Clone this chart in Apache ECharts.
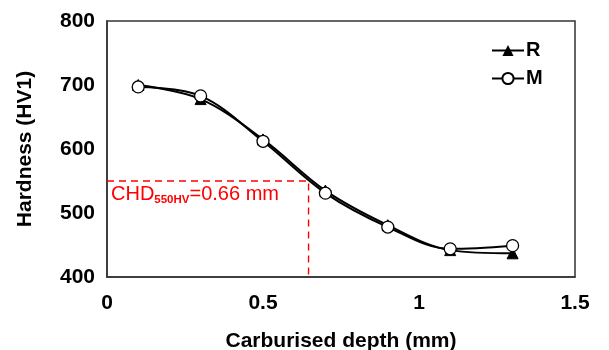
<!DOCTYPE html>
<html><head><meta charset="utf-8">
<script src="https://cdn.jsdelivr.net/npm/echarts@6/dist/echarts.min.js"></script>
<style>html,body{margin:0;padding:0;background:#fff}#c{width:609px;height:350px}</style>
</head><body><div id="c"></div>
<script>
const depth = [0.1, 0.3, 0.5, 0.7, 0.9, 1.1, 1.3];
const seriesR = [700, 678, 615, 535, 481, 442, 437];
const seriesM = [697, 683, 612, 531, 478, 444, 449];
const chdLineDepth = 0.646;
const chdHardness = 550;
const chdLabel = 'CHD{b|550HV}=0.66 mm';
const xTicks = [0, 0.5, 1, 1.5];
const yTicks = [400, 500, 600, 700, 800];

const font = 'Liberation Sans, Arial, sans-serif';
const chart = echarts.init(document.getElementById('c'));
chart.setOption({
  animation: false,
  grid: {left: 107, right: 34, top: 21, bottom: 73, show: true, borderColor: '#333', borderWidth: 1.5,
    containLabel: false, outerBoundsMode: 'none'},
  legend: {
    orient: 'vertical', left: 486, top: 35, itemWidth: 32, itemHeight: 14, itemGap: 7,
    textStyle: {fontFamily: font, fontSize: 20, lineHeight: 21, fontWeight: 'bold', color: '#000', padding: [0,0,0,-3]},
    data: ['R', 'M']
  },
  xAxis: {
    type: 'value', min: 0, max: 1.5, interval: 0.5,
    name: 'Carburised depth (mm)', nameLocation: 'middle', nameGap: 54,
    nameTextStyle: {fontFamily: font, fontSize: 21, fontWeight: 'bold', color: '#000'},
    axisLine: {show: true, lineStyle: {color: '#333', width: 1.5}},
    axisTick: {show: false}, splitLine: {show: false},
    axisLabel: {fontFamily: font, fontSize: 21, fontWeight: 'bold', color: '#000', margin: 16,
      formatter: v => xTicks.includes(v) ? String(v) : ''}
  },
  yAxis: {
    type: 'value', min: 400, max: 800, interval: 100,
    name: 'Hardness (HV1)', nameLocation: 'middle', nameGap: 71,
    nameTextStyle: {fontFamily: font, fontSize: 21, fontWeight: 'bold', color: '#000'},
    axisLine: {show: true, lineStyle: {color: '#333', width: 1.5}},
    axisTick: {show: false}, splitLine: {show: false},
    axisLabel: {fontFamily: font, fontSize: 21, fontWeight: 'bold', color: '#000', margin: 12,
      formatter: v => yTicks.includes(v) ? String(v) : ''}
  },
  series: [
    {
      name: 'CHD', type: 'line',
      data: [
        {value: [0, chdHardness], label: {show: true, position: 'right', distance: 0, offset: [4, 14],
          formatter: '{a|' + chdLabel.replace('{b|550HV}', '}{b|550HV}{a|') + '}',
          rich: {
            a: {fontFamily: font, fontSize: 20, color: '#ff0000', lineHeight: 22, verticalAlign: 'top'},
            b: {fontFamily: font, fontSize: 11.5, fontWeight: 'bold', color: '#ff0000', lineHeight: 12, verticalAlign: 'bottom', padding: [16, 0, 0, 0]}
          }}},
        [chdLineDepth, chdHardness],
        [chdLineDepth, 400]
      ],
      symbol: 'circle', symbolSize: 0, showSymbol: true,
      itemStyle: {color: '#ff0000'},
      lineStyle: {color: '#ff0000', width: 1.4, type: [7, 5]}, z: 1, silent: true
    },
    {
      name: 'R', type: 'line', smooth: 0.35, data: depth.map((d, i) => [d, seriesR[i]]),
      symbol: 'triangle', symbolSize: 11,
      itemStyle: {color: '#000', borderColor: '#000'}, lineStyle: {color: '#000', width: 2}, z: 3
    },
    {
      name: 'M', type: 'line', smooth: 0.35, data: depth.map((d, i) => [d, seriesM[i]]),
      symbol: 'circle', symbolSize: 12,
      itemStyle: {color: '#fff', borderColor: '#000', borderWidth: 1.3}, lineStyle: {color: '#000', width: 2}, z: 4
    }
  ]
});
</script></body></html>
